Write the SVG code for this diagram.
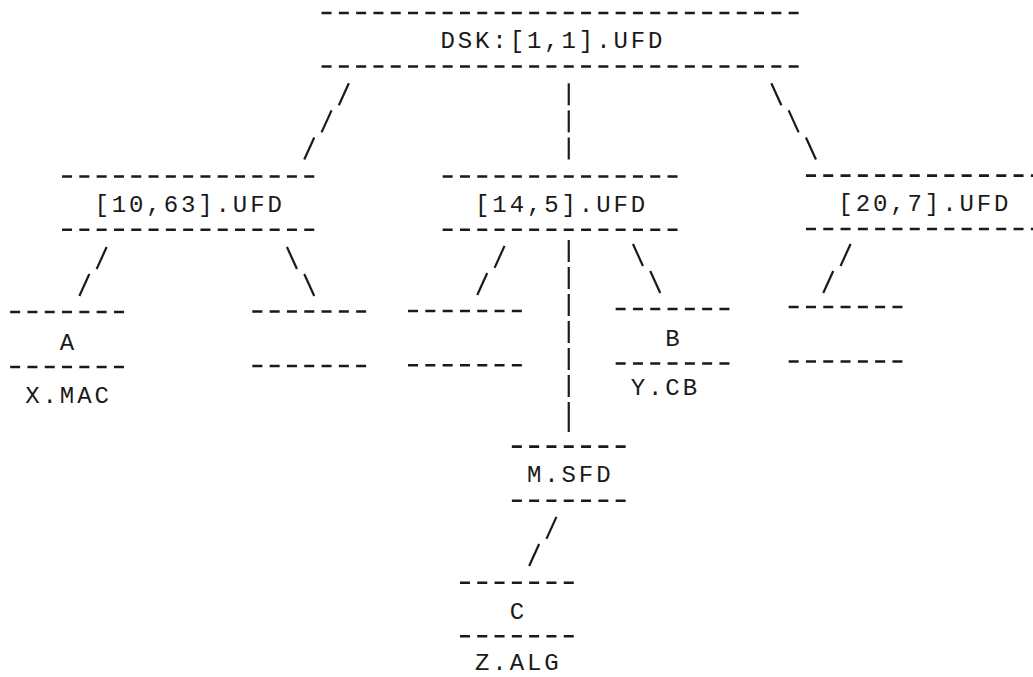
<svg xmlns="http://www.w3.org/2000/svg" width="1033" height="677" viewBox="0 0 1033 677">
<style>
.dl{stroke:#1a1a1a;stroke-width:2.6;stroke-dasharray:10 7.3;fill:none}
.t{font-family:"Liberation Mono","DejaVu Sans Mono",monospace;font-size:24px;letter-spacing:2.9px;fill:#1a1a1a}
.c line{stroke:#1a1a1a;stroke-width:2.2;stroke-linecap:butt}
</style>
<rect width="1033" height="677" fill="#ffffff"/>
<g id="root">
<line class="dl" x1="321.55" y1="13" x2="798.65" y2="13"/>
<text class="t" x="440.45" y="48">DSK:[1,1].UFD</text>
<line class="dl" x1="321.55" y1="66.5" x2="798.65" y2="66.5"/>
</g>
<g id="ufd-10-63">
<line class="dl" x1="62.05" y1="176.5" x2="314.25" y2="176.5"/>
<text class="t" x="94.45" y="211.5">[10,63].UFD</text>
<line class="dl" x1="62.05" y1="229.8" x2="314.25" y2="229.8"/>
</g>
<g id="ufd-14-5">
<line class="dl" x1="442.65" y1="176.5" x2="677.55" y2="176.5"/>
<text class="t" x="475.05" y="211.5">[14,5].UFD</text>
<line class="dl" x1="442.65" y1="229.8" x2="677.55" y2="229.8"/>
</g>
<g id="ufd-20-7">
<line class="dl" x1="805.95" y1="175.6" x2="1040.85" y2="175.6"/>
<text class="t" x="838.35" y="210.7">[20,7].UFD</text>
<line class="dl" x1="805.95" y1="229" x2="1040.85" y2="229"/>
</g>
<g id="file-a">
<line class="dl" x1="10.15" y1="312" x2="123.95" y2="312"/>
<text class="t" x="59.85" y="349.5">A</text>
<line class="dl" x1="10.15" y1="367" x2="123.95" y2="367"/>
<text class="t" x="25.25" y="403">X.MAC</text>
</g>
<g id="empty-1">
<line class="dl" x1="252.35" y1="311.5" x2="366.15" y2="311.5"/>
<line class="dl" x1="252.35" y1="366" x2="366.15" y2="366"/>
</g>
<g id="empty-2">
<line class="dl" x1="408.05" y1="311" x2="521.85" y2="311"/>
<line class="dl" x1="408.05" y1="365.3" x2="521.85" y2="365.3"/>
</g>
<g id="file-b">
<line class="dl" x1="615.65" y1="309" x2="729.45" y2="309"/>
<text class="t" x="665.35" y="346">B</text>
<line class="dl" x1="615.65" y1="363.5" x2="729.45" y2="363.5"/>
<text class="t" x="630.75" y="395">Y.CB</text>
</g>
<g id="empty-3">
<line class="dl" x1="788.65" y1="307" x2="902.45" y2="307"/>
<line class="dl" x1="788.65" y1="361.5" x2="902.45" y2="361.5"/>
</g>
<g id="sfd-m">
<line class="dl" x1="511.85" y1="446.6" x2="625.65" y2="446.6"/>
<text class="t" x="526.95" y="482">M.SFD</text>
<line class="dl" x1="511.85" y1="500.8" x2="625.65" y2="500.8"/>
</g>
<g id="file-c">
<line class="dl" x1="459.95" y1="582.7" x2="573.75" y2="582.7"/>
<text class="t" x="509.65" y="618.5">C</text>
<line class="dl" x1="459.95" y1="636.3" x2="573.75" y2="636.3"/>
<text class="t" x="475.05" y="669.5">Z.ALG</text>
</g>
<g id="connectors" class="c">
<line x1="348.85" y1="83.3" x2="338.85" y2="105.3"/>
<line x1="331.55" y1="110.4" x2="321.55" y2="132.4"/>
<line x1="314.25" y1="137.5" x2="304.25" y2="159.5"/>
<line x1="568.75" y1="83.3" x2="568.75" y2="105.3"/>
<line x1="568.75" y1="110.4" x2="568.75" y2="132.4"/>
<line x1="568.75" y1="137.5" x2="568.75" y2="159.5"/>
<line x1="771.35" y1="83.3" x2="781.35" y2="105.3"/>
<line x1="788.65" y1="110.4" x2="798.65" y2="132.4"/>
<line x1="805.95" y1="137.5" x2="815.95" y2="159.5"/>
<line x1="106.65" y1="247" x2="96.65" y2="269"/>
<line x1="89.35" y1="274" x2="79.35" y2="296"/>
<line x1="286.95" y1="247" x2="296.95" y2="269"/>
<line x1="304.25" y1="274" x2="314.25" y2="296"/>
<line x1="504.55" y1="245.9" x2="494.55" y2="267.9"/>
<line x1="487.25" y1="273" x2="477.25" y2="295"/>
<line x1="568.75" y1="240" x2="568.75" y2="262"/>
<line x1="568.75" y1="267" x2="568.75" y2="289"/>
<line x1="568.75" y1="294" x2="568.75" y2="316"/>
<line x1="568.75" y1="321" x2="568.75" y2="343"/>
<line x1="568.75" y1="348" x2="568.75" y2="370"/>
<line x1="568.75" y1="375" x2="568.75" y2="397"/>
<line x1="568.75" y1="402" x2="568.75" y2="432"/>
<line x1="632.95" y1="244" x2="642.95" y2="266"/>
<line x1="650.25" y1="271" x2="660.25" y2="293"/>
<line x1="850.55" y1="244" x2="840.55" y2="266"/>
<line x1="833.25" y1="271" x2="823.25" y2="293"/>
<line x1="556.45" y1="516.9" x2="546.45" y2="538.9"/>
<line x1="539.15" y1="544" x2="529.15" y2="566"/>
</g>
</svg>
